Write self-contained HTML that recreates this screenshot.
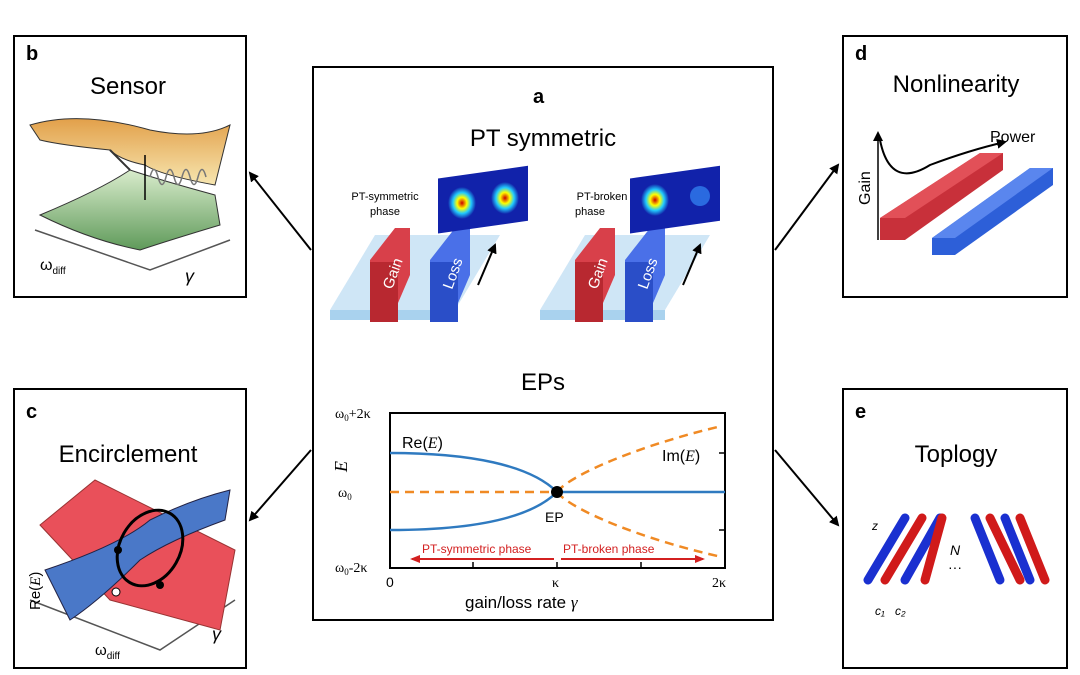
<!DOCTYPE html>
<html><head><meta charset="utf-8"><style>
body{margin:0;background:#fff;}
svg{display:block;font-family:"Liberation Sans",sans-serif;}
</style></head><body>
<svg width="1080" height="675" viewBox="0 0 1080 675" xmlns="http://www.w3.org/2000/svg">
<defs>
<marker id="ah" markerWidth="10" markerHeight="10" refX="8" refY="5" orient="auto" markerUnits="userSpaceOnUse"><path d="M0,0 L10,5 L0,10 z" fill="#000"/></marker>
<marker id="rh" markerWidth="10" markerHeight="10" refX="8" refY="5" orient="auto" markerUnits="userSpaceOnUse"><path d="M0,1 L10,5 L0,9 z" fill="#d32020"/></marker>
<linearGradient id="gor" x1="0" y1="0" x2="0" y2="1"><stop offset="0" stop-color="#e2a04a"/><stop offset="1" stop-color="#f7e6b0"/></linearGradient>
<linearGradient id="ggr" x1="0" y1="0" x2="0" y2="1"><stop offset="0" stop-color="#d9eccc"/><stop offset="1" stop-color="#5f9a5a"/></linearGradient>
<radialGradient id="mode" cx="0.5" cy="0.5" r="0.5"><stop offset="0" stop-color="#c00"/><stop offset="0.35" stop-color="#ff0"/><stop offset="0.65" stop-color="#2cf"/><stop offset="1" stop-color="#12a"/></radialGradient>
</defs>
<g fill="none" stroke="#000" stroke-width="2">
<rect x="14" y="36" width="232" height="261"/>
<rect x="14" y="389" width="232" height="279"/>
<rect x="313" y="67" width="460" height="553"/>
<rect x="843" y="36" width="224" height="261"/>
<rect x="843" y="389" width="224" height="279"/>
</g>
<g stroke="#000" stroke-width="2" marker-end="url(#ah)">
<line x1="311" y1="250" x2="250" y2="173"/>
<line x1="311" y1="450" x2="250" y2="520"/>
<line x1="775" y1="250" x2="838" y2="165"/>
<line x1="775" y1="450" x2="838" y2="525"/>
</g>
<g font-weight="bold" font-size="20" fill="#000">
<text x="26" y="60">b</text><text x="26" y="418">c</text>
<text x="533" y="103">a</text>
<text x="855" y="60">d</text><text x="855" y="418">e</text>
</g>
<g font-size="24" fill="#000" text-anchor="middle">
<text x="128" y="94">Sensor</text>
<text x="128" y="462">Encirclement</text>
<text x="956" y="92">Nonlinearity</text>
<text x="956" y="462">Toplogy</text>
<text x="543" y="146">PT symmetric</text>
<text x="543" y="390">EPs</text>
</g>
<path d="M35,230 L150,270 L230,240" fill="none" stroke="#555" stroke-width="1.5"/>
<path d="M30,125 Q80,110 150,130 Q200,140 230,125 L215,185 Q160,175 145,165 Q120,160 110,150 Q60,145 40,140 Z" fill="url(#gor)" stroke="#333"/>
<path d="M40,215 Q100,190 130,170 Q160,180 215,195 L220,225 Q170,240 140,250 Q90,240 40,215 Z" fill="url(#ggr)" stroke="#333"/>
<path d="M110,150 Q125,165 130,170" fill="none" stroke="#333" stroke-width="2"/>
<line x1="145" y1="155" x2="145" y2="200" stroke="#000" stroke-width="1.5"/>
<path d="M150,177 q4,-15 8,0 t8,0 t8,0 t8,0 t8,0 t8,0 t8,0" fill="none" stroke="#777" stroke-width="1.5"/>
<text x="40" y="270" font-size="16">ω<tspan font-size="10" dy="4">diff</tspan></text>
<text x="185" y="282" font-size="18" font-style="italic">γ</text>
<path d="M30,600 L160,650 L235,600" fill="none" stroke="#555" stroke-width="1.5"/>
<path d="M40,525 L95,480 L235,550 L220,630 L110,600 Z" fill="#e9505a" stroke="#933"/>
<path d="M45,570 Q120,545 150,520 Q190,500 230,490 L225,520 Q170,540 140,560 Q100,600 70,620 Z" fill="#4a78c8" stroke="#224"/>
<ellipse cx="150" cy="548" rx="30" ry="40" transform="rotate(30 150 548)" fill="none" stroke="#000" stroke-width="3"/>
<circle cx="118" cy="550" r="4"/><circle cx="160" cy="585" r="4"/><circle cx="116" cy="592" r="4" fill="#fff" stroke="#000"/>
<text x="40" y="610" font-size="15" transform="rotate(-90 40 610)">Re(<tspan font-style="italic" font-family="Liberation Serif">E</tspan>)</text>
<text x="95" y="655" font-size="15">ω<tspan font-size="10" dy="4">diff</tspan></text>
<text x="212" y="640" font-size="18" font-style="italic">γ</text>
<path d="M880,218 L980,153 L1003,153 L1003,170 L905,240 L880,240 Z" fill="#c8303a"/>
<path d="M880,218 L905,218 L1003,153 L980,153 Z" fill="#e25058"/>
<path d="M932,238 L1030,168 L1053,168 L1053,185 L955,255 L932,255 Z" fill="#2d5fd8"/>
<path d="M932,238 L955,238 L1053,168 L1030,168 Z" fill="#5a86ee"/>
<line x1="878" y1="240" x2="878" y2="133" stroke="#000" stroke-width="1.5" marker-end="url(#ah)"/>
<path d="M880,140 Q890,190 930,165 Q970,150 1005,142" fill="none" stroke="#000" stroke-width="2" marker-end="url(#ah)"/>
<text x="990" y="142" font-size="16">Power</text>
<text x="870" y="205" font-size="16" transform="rotate(-90 870 205)">Gain</text>
<g stroke-width="9" stroke-linecap="round">
<line x1="868" y1="580" x2="905" y2="518" stroke="#1a30d0"/>
<line x1="885" y1="580" x2="922" y2="518" stroke="#d01a1a"/>
<line x1="905" y1="580" x2="940" y2="518" stroke="#1a30d0"/>
<line x1="925" y1="580" x2="942" y2="518" stroke="#d01a1a"/>
<line x1="1000" y1="580" x2="975" y2="518" stroke="#1a30d0"/>
<line x1="1020" y1="580" x2="990" y2="518" stroke="#d01a1a"/>
<line x1="1030" y1="580" x2="1005" y2="518" stroke="#1a30d0"/>
<line x1="1045" y1="580" x2="1020" y2="518" stroke="#d01a1a"/>
</g>
<text x="950" y="555" font-size="14" font-style="italic">N</text><text x="948" y="572" font-size="14">···</text>
<text x="872" y="530" font-size="12" font-style="italic">z</text>
<text x="875" y="615" font-size="12" font-style="italic">c₁</text><text x="895" y="615" font-size="12" font-style="italic">c₂</text>
<g>
<path d="M330,310 L375,235 L500,235 L455,310 Z" fill="#cfe6f6"/><path d="M330,310 L455,310 L455,320 L330,320Z" fill="#a9d2ee"/>
<path d="M370,310 L370,260 L395,228 L410,228 L410,275 L395,310 Z" fill="#d8404a"/><rect x="370" y="262" width="28" height="60" fill="#b82830"/>
<path d="M430,310 L430,260 L455,228 L470,228 L470,275 L455,310 Z" fill="#4a70e8"/><rect x="430" y="262" width="28" height="60" fill="#2a4ec8"/>
<text x="392" y="290" font-size="15" fill="#fff" transform="rotate(-70 392 290)">Gain</text>
<text x="452" y="290" font-size="15" fill="#fff" transform="rotate(-70 452 290)">Loss</text>
<line x1="478" y1="285" x2="495" y2="245" stroke="#000" stroke-width="2" marker-end="url(#ah)"/>
<rect x="438" y="175" width="90" height="55" fill="#12a" transform="skewY(-8) translate(0,65)"/>
<ellipse cx="462" cy="203" rx="14" ry="16" fill="url(#mode)"/><ellipse cx="505" cy="198" rx="14" ry="16" fill="url(#mode)"/>
<text x="385" y="200" font-size="11" text-anchor="middle">PT-symmetric</text><text x="385" y="215" font-size="11" text-anchor="middle">phase</text>
<path d="M540,310 L585,235 L710,235 L665,310 Z" fill="#cfe6f6"/><path d="M540,310 L665,310 L665,320 L540,320Z" fill="#a9d2ee"/>
<path d="M575,310 L575,260 L600,228 L615,228 L615,275 L600,310 Z" fill="#d8404a"/><rect x="575" y="262" width="28" height="60" fill="#b82830"/>
<path d="M625,310 L625,260 L650,228 L665,228 L665,275 L650,310 Z" fill="#4a70e8"/><rect x="625" y="262" width="28" height="60" fill="#2a4ec8"/>
<text x="597" y="290" font-size="15" fill="#fff" transform="rotate(-70 597 290)">Gain</text>
<text x="647" y="290" font-size="15" fill="#fff" transform="rotate(-70 647 290)">Loss</text>
<line x1="683" y1="285" x2="700" y2="245" stroke="#000" stroke-width="2" marker-end="url(#ah)"/>
<rect x="630" y="175" width="90" height="55" fill="#12a" transform="skewY(-8) translate(0,92)"/>
<ellipse cx="655" cy="200" rx="14" ry="16" fill="url(#mode)"/><ellipse cx="700" cy="196" rx="10" ry="10" fill="#2a6ae0"/>
<text x="602" y="200" font-size="11" text-anchor="middle">PT-broken</text><text x="590" y="215" font-size="11" text-anchor="middle">phase</text>
</g>
<rect x="390" y="413" width="335" height="155" fill="none" stroke="#000" stroke-width="2"/>
<g stroke="#000" stroke-width="1.5">
<line x1="473" y1="568" x2="473" y2="562"/><line x1="557" y1="568" x2="557" y2="562"/><line x1="641" y1="568" x2="641" y2="562"/>
<line x1="725" y1="453" x2="719" y2="453"/><line x1="725" y1="492" x2="719" y2="492"/><line x1="725" y1="530" x2="719" y2="530"/>
</g>
<path d="M390,453 C470,453 530,465 557,492 C530,519 470,530 390,530" fill="none" stroke="#2f7ac0" stroke-width="2.5"/>
<line x1="557" y1="492" x2="725" y2="492" stroke="#2f7ac0" stroke-width="2.5"/>
<line x1="390" y1="492" x2="557" y2="492" stroke="#f08a24" stroke-width="2.5" stroke-dasharray="9,6"/>
<path d="M557,492 C570,475 640,445 722,426" fill="none" stroke="#f08a24" stroke-width="2.5" stroke-dasharray="9,6"/>
<path d="M557,492 C570,509 640,539 722,557" fill="none" stroke="#f08a24" stroke-width="2.5" stroke-dasharray="9,6"/>
<circle cx="557" cy="492" r="6" fill="#000"/>
<text x="402" y="448" font-size="16">Re(<tspan font-family="Liberation Serif" font-style="italic">E</tspan>)</text>
<text x="662" y="461" font-size="16">Im(<tspan font-family="Liberation Serif" font-style="italic">E</tspan>)</text>
<text x="545" y="522" font-size="14">EP</text>
<line x1="554" y1="559" x2="412" y2="559" stroke="#d32020" stroke-width="2" marker-end="url(#rh)"/>
<line x1="561" y1="559" x2="703" y2="559" stroke="#d32020" stroke-width="2" marker-end="url(#rh)"/>
<text x="422" y="553" font-size="12" fill="#d32020">PT-symmetric phase</text>
<text x="563" y="553" font-size="12" fill="#d32020">PT-broken phase</text>
<g font-size="14" font-family="Liberation Serif">
<text x="335" y="418">ω<tspan font-size="9" dy="3">0</tspan><tspan dy="-3">+2κ</tspan></text>
<text x="338" y="497">ω<tspan font-size="9" dy="3">0</tspan></text>
<text x="335" y="572">ω<tspan font-size="9" dy="3">0</tspan><tspan dy="-3">-2κ</tspan></text>
<text x="386" y="587" font-family="Liberation Sans">0</text>
<text x="552" y="587">κ</text>
<text x="712" y="587">2κ</text>
</g>
<text x="347" y="472" font-size="18" font-family="Liberation Serif" font-style="italic" transform="rotate(-90 347 472)">E</text>
<text x="465" y="608" font-size="17">gain/loss rate <tspan font-family="Liberation Serif" font-style="italic">γ</tspan></text>
</svg>
</body></html>
